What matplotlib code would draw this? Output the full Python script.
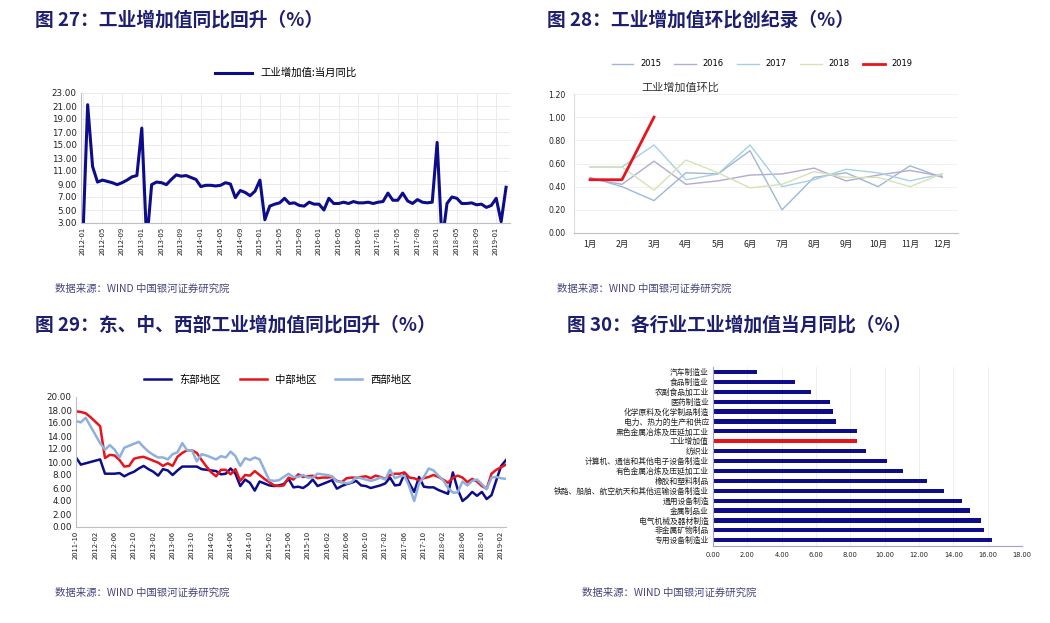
import numpy as np
import pandas as pd
import matplotlib
matplotlib.use('Agg')
import matplotlib.pyplot as plt
from matplotlib.ticker import FormatStrFormatter

plt.rcParams['font.family'] = ['Noto Sans CJK SC', 'DejaVu Sans']
plt.rcParams['axes.unicode_minus'] = False

# ---- 图27 data: 工业增加值当月同比, 2012-01 .. 2019-03
ipv_yoy = [
    0.0, 21.2, 11.7, 9.3, 9.6, 9.4, 9.2, 8.9, 9.2, 9.6, 10.1, 10.3,
    17.6, 0.0, 8.9, 9.3, 9.2, 8.9, 9.7, 10.4, 10.2, 10.3, 10.0, 9.7,
    8.6, 8.8, 8.8, 8.7, 8.8, 9.2, 9.0, 6.9, 8.0, 7.7, 7.2, 7.9,
    9.6, 3.5, 5.6, 5.9, 6.1, 6.8, 6.0, 6.1, 5.7, 5.6, 6.2, 5.9,
    5.9, 5.0, 6.8, 6.0, 6.0, 6.2, 6.0, 6.3, 6.1, 6.1, 6.2, 6.0,
    6.2, 6.3, 7.6, 6.5, 6.5, 7.6, 6.4, 6.0, 6.6, 6.2, 6.1, 6.2,
    15.4, 0.0, 6.0, 7.0, 6.8, 6.0, 6.0, 6.1, 5.8, 5.9, 5.4, 5.7,
    6.8, 3.2, 8.5]
months27 = pd.date_range('2012-01', periods=len(ipv_yoy), freq='MS').strftime('%Y-%m')

# ---- 图28 data: 工业增加值环比
months28 = ['1月', '2月', '3月', '4月', '5月', '6月', '7月', '8月', '9月', '10月', '11月', '12月']
mom_2015 = [0.48, 0.40, 0.28, 0.52, 0.51, 0.71, 0.20, 0.48, 0.52, 0.40, 0.58, 0.48]
mom_2016 = [0.47, 0.42, 0.62, 0.42, 0.45, 0.50, 0.51, 0.56, 0.45, 0.50, 0.54, 0.49]
mom_2017 = [0.57, 0.57, 0.76, 0.46, 0.51, 0.76, 0.40, 0.46, 0.55, 0.52, 0.45, 0.51]
mom_2018 = [0.57, 0.57, 0.37, 0.63, 0.52, 0.39, 0.42, 0.53, 0.48, 0.48, 0.40, 0.51]
mom_2019 = [0.46, 0.46, 1.00]

# ---- 图29 data: 东、中、西部, 2011-10 .. 2019-03
east = [10.7, 9.6, 9.8, 10.0, 10.2, 10.4, 8.2, 8.2, 8.2, 8.3,
        7.8, 8.2, 8.5, 9.0, 9.4, 8.9, 8.5, 7.9, 8.9, 8.7,
        8.0, 8.7, 9.3, 9.3, 9.3, 9.3, 8.9, 8.8, 8.7, 8.6,
        8.1, 8.2, 9.0, 8.2, 6.3, 7.3, 6.8, 5.6, 7.0, 6.7,
        6.4, 6.3, 6.4, 6.6, 7.4, 6.1, 6.2, 6.0, 6.5, 7.3,
        6.3, 6.6, 6.9, 7.2, 5.9, 6.3, 6.6, 6.8, 7.1, 6.4,
        6.3, 6.0, 6.2, 6.4, 6.7, 7.6, 6.4, 6.5, 8.2, 6.7,
        5.4, 7.7, 6.2, 6.1, 6.1, 5.7, 5.4, 5.1, 8.4, 5.8,
        4.0, 4.6, 5.4, 4.8, 5.4, 4.3, 4.9, 7.2, 9.4, 10.3]
central = [17.8, 17.7, 17.5, 16.9, 16.2, 15.5, 10.6, 11.1, 11.0, 10.3,
           9.3, 9.4, 10.5, 10.7, 10.8, 10.5, 10.2, 9.9, 9.4, 9.8,
           9.4, 10.8, 11.4, 11.8, 11.8, 11.4, 10.3, 9.3, 8.4, 7.8,
           8.8, 8.8, 8.1, 8.9, 7.1, 8.0, 7.9, 8.6, 8.0, 7.4,
           6.9, 6.4, 6.3, 6.4, 7.6, 7.3, 8.1, 7.7, 7.8, 7.9,
           7.5, 7.6, 7.6, 7.7, 7.1, 6.9, 7.5, 7.6, 7.6, 7.7,
           7.8, 7.5, 7.9, 7.7, 7.4, 8.0, 8.2, 8.2, 8.4, 7.6,
           7.5, 7.2, 7.5, 7.7, 8.0, 7.7, 7.3, 6.8, 7.6, 7.9,
           7.6, 6.9, 7.4, 7.0, 6.3, 5.9, 8.2, 8.8, 9.2, 9.6]
west = [16.3, 16.1, 16.8, 15.5, 14.2, 12.9, 11.9, 12.6, 11.9, 10.7,
        12.2, 12.5, 12.8, 13.1, 12.3, 11.6, 11.1, 10.7, 10.7, 10.4,
        11.2, 11.5, 12.9, 11.8, 11.8, 10.1, 11.2, 11.0, 10.7, 10.4,
        10.9, 10.7, 11.6, 10.9, 9.4, 10.6, 10.3, 10.7, 10.4, 8.8,
        7.2, 7.1, 7.2, 7.7, 8.2, 7.7, 7.7, 8.0, 7.6, 7.6,
        8.2, 8.1, 8.0, 7.8, 7.0, 6.9, 6.7, 6.9, 7.7, 7.5,
        7.3, 7.1, 7.3, 7.6, 7.3, 8.8, 7.5, 7.8, 7.9, 6.2,
        4.0, 6.7, 7.7, 9.0, 8.7, 7.9, 7.2, 6.0, 5.3, 5.3,
        7.0, 6.4, 7.1, 7.3, 6.6, 5.8, 7.6, 7.7, 7.5, 7.4]
months29 = pd.date_range('2011-10', periods=len(east), freq='MS').strftime('%Y-%m')

# ---- 图30 data: 各行业工业增加值当月同比
industries = ['汽车制造业', '食品制造业', '农副食品加工业', '医药制造业',
              '化学原料及化学制品制造', '电力、热力的生产和供应',
              '黑色金属冶炼及压延加工业', '工业增加值', '纺织业',
              '计算机、通信和其他电子设备制造业', '有色金属冶炼及压延加工业',
              '橡胶和塑料制品', '铁路、船舶、航空航天和其他运输设备制造业',
              '通用设备制造', '金属制品业', '电气机械及器材制造',
              '非金属矿物制品', '专用设备制造业']
ind_yoy = [2.56, 4.77, 5.68, 6.81, 7.01, 7.16, 8.41, 8.41, 8.90, 10.14,
           11.04, 12.49, 13.46, 14.5, 15.0, 15.6, 15.8, 16.25]

W, H = 1050, 623
fig = plt.figure(figsize=(W / 100, H / 100), dpi=100)

navy = '#0D0D8A'
red = '#E8141C'
title_c = '#1E1E6E'
src_c = '#46467E'
axis_c = '#BFBFBF'
grid_c = '#E8E8E8'


def fx(px):
    return px / W


def fy(py):
    return 1 - py / H


titles = [(35, 20, '图 27：工业增加值同比回升（%）'),
          (547, 20, '图 28：工业增加值环比创纪录（%）'),
          (35, 325, '图 29：东、中、西部工业增加值同比回升（%）'),
          (567, 325, '图 30：各行业工业增加值当月同比（%）')]
for x0, y0, t in titles:
    fig.text(fx(x0), fy(y0), t, fontsize=13.5, fontweight='bold', color=title_c,
             ha='left', va='center')

for x0, y0 in [(55, 289), (557, 289), (55, 593), (582, 593)]:
    fig.text(fx(x0), fy(y0), '数据来源：WIND 中国银河证券研究院', fontsize=7.5,
             style='italic', color=src_c, ha='left', va='center')


def style_axes(ax):
    for s in ['top', 'right']:
        ax.spines[s].set_visible(False)
    for s in ['left', 'bottom']:
        ax.spines[s].set_color(axis_c)
        ax.spines[s].set_linewidth(0.8)
    ax.tick_params(length=0, colors='#222222')


def latin(labels):
    for lb in labels:
        lb.set_fontfamily('DejaVu Sans')


# ---- 图27
ax1 = fig.add_axes([fx(81), fy(223), fx(429), 130 / H])
x1 = np.arange(len(ipv_yoy))
ax1.plot(x1, ipv_yoy, color=navy, lw=2.2, label='工业增加值:当月同比')
ax1.set_ylim(3, 23)
ax1.set_yticks(np.arange(3, 23.1, 2))
ax1.yaxis.set_major_formatter(FormatStrFormatter('%.2f'))
ax1.set_xlim(-0.35, 86.8)
ax1.set_xticks(x1[::4])
ax1.set_xticklabels(months27[::4], rotation=90)
ax1.grid(True, color=grid_c, lw=0.6)
ax1.set_axisbelow(True)
style_axes(ax1)
ax1.tick_params(axis='y', labelsize=6.3, pad=3)
ax1.tick_params(axis='x', labelsize=5.5, pad=3)
latin(ax1.get_yticklabels())
ax1.legend(loc='center', bbox_to_anchor=(fx(286), fy(73)),
           bbox_transform=fig.transFigure, frameon=False, fontsize=7.5,
           handlelength=3.6)

# ---- 图28
ax2 = fig.add_axes([fx(574), fy(233), fx(384), 139 / H])
x2 = np.arange(len(months28))
year_series = [('2015', mom_2015, '#9DB8D6', 1.0),
               ('2016', mom_2016, '#B3A9D4', 1.0),
               ('2017', mom_2017, '#A8D0E2', 1.0),
               ('2018', mom_2018, '#D5E2B5', 1.0),
               ('2019', mom_2019, red, 2.0)]
for name, vals, c, lw in year_series:
    ax2.plot(x2[:len(vals)], vals, color=c, lw=lw, label=name)
ax2.set_xlim(-0.5, 11.5)
ax2.set_ylim(0, 1.2)
ax2.set_yticks(np.arange(0, 1.21, 0.2))
ax2.yaxis.set_major_formatter(FormatStrFormatter('%.2f'))
ax2.set_xticks(x2)
ax2.set_xticklabels(months28)
ax2.grid(True, axis='y', color='#EFEFEF', lw=0.6)
ax2.set_axisbelow(True)
style_axes(ax2)
ax2.spines['left'].set_color('#DDDDDD')
ax2.tick_params(axis='y', labelsize=5.6, pad=6)
ax2.tick_params(axis='x', labelsize=6.2, pad=5)
latin(ax2.get_yticklabels())
leg2 = ax2.legend(loc='center', bbox_to_anchor=(fx(762), fy(64)),
                  bbox_transform=fig.transFigure, frameon=False, fontsize=6,
                  ncol=5, handlelength=2.6, columnspacing=1.6)
latin(leg2.get_texts())
fig.text(fx(680), fy(88), '工业增加值环比', fontsize=8, color='#333333',
         ha='center', va='center')

# ---- 图29
ax3 = fig.add_axes([fx(76), fy(527), fx(430), 130 / H])
x3 = np.arange(len(east))
ax3.plot(x3, east, color=navy, lw=1.8, label='东部地区')
ax3.plot(x3, central, color=red, lw=1.8, label='中部地区')
ax3.plot(x3, west, color='#8EB0DE', lw=1.8, label='西部地区')
ax3.set_xlim(0, 89)
ax3.set_ylim(0, 20)
ax3.set_yticks(np.arange(0, 20.1, 2))
ax3.yaxis.set_major_formatter(FormatStrFormatter('%.2f'))
ax3.set_xticks(x3[::4])
ax3.set_xticklabels(months29[::4], rotation=90)
style_axes(ax3)
ax3.tick_params(axis='y', labelsize=6.3, pad=3)
ax3.tick_params(axis='x', labelsize=5.5, pad=3)
latin(ax3.get_yticklabels())
ax3.legend(loc='center', bbox_to_anchor=(fx(278), fy(380)),
           bbox_transform=fig.transFigure, frameon=False, fontsize=7.5,
           ncol=3, handlelength=2.6, columnspacing=1.8)

# ---- 图30
ax4 = fig.add_axes([fx(713), fy(546), fx(309), 179 / H])
y4 = np.arange(len(industries))
colors4 = [red if n == '工业增加值' else navy for n in industries]
ax4.barh(y4, ind_yoy, height=0.42, color=colors4)
ax4.set_ylim(17.58, -0.5)
ax4.set_xlim(0, 18)
ax4.set_xticks(np.arange(0, 18.1, 2))
ax4.xaxis.set_major_formatter(FormatStrFormatter('%.2f'))
ax4.set_yticks(y4)
ax4.set_yticklabels(industries)
ax4.grid(True, axis='x', color='#EBEBEB', lw=0.6)
ax4.set_axisbelow(True)
style_axes(ax4)
ax4.spines['left'].set_color('#A0A0D0')
ax4.spines['bottom'].set_color('#A0A0D0')
ax4.tick_params(axis='y', labelsize=5.6, pad=3)
ax4.tick_params(axis='x', labelsize=4.8, pad=4)
latin(ax4.get_xticklabels())

fig.savefig('out.png', dpi=100)
